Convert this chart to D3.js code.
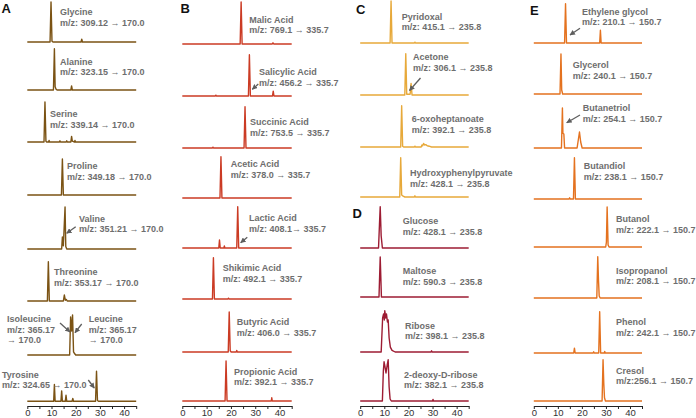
<!DOCTYPE html>
<html><head><meta charset="utf-8">
<script src="https://cdn.jsdelivr.net/npm/d3@7"></script>
<style>
html,body{margin:0;padding:0;background:#fff;}
svg{display:block;}
</style>
</head><body>
<svg id="chart" width="696" height="418"></svg>
<script>
// ---------------- DATA ----------------
const xTicks = [0, 10, 20, 30, 40];
const xMinorTicks = [0, 5, 10, 15, 20, 25, 30, 35, 40, 45];
const panelLetters = ["A", "B", "C", "D", "E"];

// Column A: amino acids  (retention time [min], relative intensity)
const labelsA = [
  ["Glycine", "m/z: 309.12 → 170.0"],
  ["Alanine", "m/z: 323.15 → 170.0"],
  ["Serine", "m/z: 339.14 → 170.0"],
  ["Proline", "m/z: 349.18 → 170.0"],
  ["Valine", "m/z: 351.21 → 170.0"],
  ["Threonine", "m/z: 353.17 → 170.0"],
  ["Isoleucine", "m/z: 365.17", "→ 170.0"],
  ["Leucine", "m/z: 365.17", "→ 170.0"],
  ["Tyrosine", "m/z: 324.65 → 170.0"]
];
const tracesA = [
  [[0,0],[9.4,0],[9.8,1.0],[10.2,0.02],[10.6,0],[22.2,0],[22.5,0.07],[22.8,0],[45,0]],
  [[0,0],[10.8,0],[11.2,1.03],[11.5,0.08],[11.9,0.02],[12.3,0],[18.0,0],[18.3,0.1],[18.6,0],[45,0]],
  [[0,0],[6.9,0],[7.3,1.0],[7.7,0.02],[8.0,0],[8.8,0],[9.0,0.04],[9.2,0],[13.3,0],[13.5,0.03],[13.7,0],[16.1,0],[16.3,0.03],[16.5,0],[18.0,0],[18.3,0.14],[18.6,0.02],[19.5,0],[19.7,0.04],[19.9,0],[45,0]],
  [[0,0],[14.1,0],[14.5,0.9],[14.9,0],[45,0]],
  [[0,0],[14.2,0],[14.5,0.3],[14.9,0.08],[15.6,1.05],[15.9,0.06],[16.3,0],[45,0]],
  [[0,0],[8.3,0],[8.7,0.98],[9.1,0],[14.9,0],[15.3,0.15],[15.7,0.02],[16.1,0.04],[16.5,0],[45,0]],
  [[0,0],[17.5,0],[17.9,0.95],[18.3,0.6],[18.7,1.0],[19.1,0.08],[19.6,0.03],[20.0,0],[45,0]],
  [[0,0],[10.9,0],[11.2,0.42],[11.5,0],[13.9,0],[14.2,0.26],[14.5,0],[15.7,0],[16.0,0.15],[16.3,0],[18.5,0],[18.8,0.07],[19.1,0],[28.2,0],[28.6,0.75],[29.0,0.02],[29.4,0],[45,0]]
];

// Column B: organic acids
const labelsB = [
  ["Malic Acid", "m/z: 769.1 → 335.7"],
  ["Salicylic Acid", "m/z: 456.2 → 335.7"],
  ["Succinic Acid", "m/z: 753.5 → 335.7"],
  ["Acetic Acid", "m/z: 378.0 → 335.7"],
  ["Lactic Acid", "m/z: 408.1→ 335.7"],
  ["Shikimic Acid", "m/z: 492.1 → 335.7"],
  ["Butyric Acid", "m/z: 406.0 → 335.7"],
  ["Propionic Acid", "m/z: 392.1 → 335.7"]
];
const tracesB = [
  [[0,0],[23.8,0],[24.2,1.05],[24.6,0],[37.0,0],[37.3,0.03],[37.6,0],[45,0]],
  [[0,0],[13.6,0],[13.8,0.02],[14.0,0],[27.2,0],[27.6,1.03],[28.0,0],[37.1,0],[37.4,0.12],[37.7,0],[45,0]],
  [[0,0],[12.4,0],[12.6,0.02],[12.8,0],[25.4,0],[25.8,1.03],[26.2,0],[45,0]],
  [[0,0],[15.5,0],[15.9,1.03],[16.3,0],[45,0]],
  [[0,0],[15.0,0],[15.3,0.2],[15.6,0],[17.1,0],[17.3,0.05],[17.5,0],[22.4,0],[22.8,1.03],[23.2,0],[45,0]],
  [[0,0],[12.4,0],[12.8,1.03],[13.2,0],[18.8,0],[19.0,0.02],[19.2,0],[45,0]],
  [[0,0],[18.9,0],[19.3,1.0],[19.7,0.03],[20.1,0],[22.2,0],[22.4,0.04],[22.6,0],[45,0]],
  [[0,0],[17.6,0],[18.0,1.0],[18.4,0],[36.6,0],[36.8,0.08],[37.0,0],[45,0]]
];

// Column C: keto compounds
const labelsC = [
  ["Pyridoxal", "m/z: 415.1 → 235.8"],
  ["Acetone", "m/z: 306.1 → 235.8"],
  ["6-oxoheptanoate", "m/z: 392.1 → 235.8"],
  ["Hydroxyphenylpyruvate", "m/z: 428.1 → 235.8"]
];
const tracesC = [
  [[0,0],[12.4,0],[12.8,1.05],[13.2,0],[22.5,0],[22.7,0.02],[22.9,0],[45,0]],
  [[0,0],[18.5,0],[18.9,1.03],[19.3,0.02],[20.7,0.02],[21.1,0.29],[21.5,0],[45,0]],
  [[0,0],[16.8,0],[17.2,1.03],[17.6,0.02],[18.0,0],[22.5,0],[22.7,0.02],[22.9,0],[25.3,0],[25.6,0.05],[25.9,0.03],[26.3,0.09],[26.7,0.05],[27.2,0.06],[27.8,0.03],[28.6,0.02],[29.6,0],[45,0]],
  [[0,0],[16.4,0],[16.8,0.98],[17.2,0.05],[17.8,0.02],[18.5,0],[22.5,0],[22.7,0.03],[22.9,0],[45,0]]
];

// Column D: sugars
const labelsD = [
  ["Glucose", "m/z: 428.1 → 235.8"],
  ["Maltose", "m/z: 590.3 → 235.8"],
  ["Ribose", "m/z: 398.1 → 235.8"],
  ["2-deoxy-D-ribose", "m/z: 382.1 → 235.8"]
];
const tracesD = [
  [[0,0],[7.6,0],[8.0,0.6],[8.3,1.03],[8.7,0.3],[9.2,0],[45,0]],
  [[0,0],[7.8,0],[8.3,1.0],[8.8,0],[45,0]],
  [[0,0],[8.7,0],[9.3,0.85],[9.7,0.95],[10.0,0.8],[10.2,1.03],[10.6,0.85],[10.9,0.95],[11.3,0.75],[11.6,0.8],[12.0,0.35],[12.5,0.12],[13.2,0.04],[14.5,0],[29.4,0],[29.6,0.03],[29.8,0],[45,0]],
  [[0,0],[9.2,0],[9.6,0.75],[9.9,0.98],[10.3,0.85],[10.7,0.7],[11.2,0.9],[11.6,1.03],[12.0,0.35],[12.4,0.05],[12.9,0],[30.0,0],[30.2,0.04],[30.4,0],[45,0]]
];

// Column E: alcohols
const labelsE = [
  ["Ethylene glycol", "m/z: 210.1 → 150.7"],
  ["Glycerol", "m/z: 240.1 → 150.7"],
  ["Butanetriol", "m/z: 254.1 → 150.7"],
  ["Butandiol", "m/z: 238.1 → 150.7"],
  ["Butanol", "m/z: 222.1 → 150.7"],
  ["Isopropanol", "m/z: 208.1 → 150.7"],
  ["Phenol", "m/z: 242.1 → 150.7"],
  ["Cresol", "m/z:256.1 → 150.7"]
];
const tracesE = [
  [[0,0],[12.8,0],[13.2,0.98],[13.6,0],[27.4,0],[27.7,0.32],[28.0,0],[45,0]],
  [[0,0],[10.9,0],[11.3,1.0],[11.6,0.1],[12.0,0],[45,0]],
  [[0,0],[11.5,0],[11.9,1.0],[12.1,0.37],[12.5,0.35],[12.8,0],[18.0,0],[18.5,0.2],[19.0,0.4],[19.5,0.15],[20.1,0],[45,0]],
  [[0,0],[14.7,0],[14.9,0.03],[15.1,0],[16.5,0],[16.9,1.03],[17.3,0],[45,0]],
  [[0,0],[29.9,0],[30.2,0.12],[30.5,1.0],[30.9,0.05],[31.3,0],[45,0]],
  [[0,0],[26.2,0],[26.6,1.03],[26.9,0.45],[27.2,0.05],[27.6,0],[45,0]],
  [[0,0],[16.6,0],[16.9,0.12],[17.2,0],[24.7,0],[24.9,0.03],[25.1,0],[27.0,0],[27.4,1.03],[27.8,0],[29.3,0],[29.5,0.04],[29.7,0],[45,0]],
  [[0,0],[28.4,0],[28.8,1.03],[29.1,0.45],[29.4,0.08],[29.8,0],[45,0]]
];

// ---------------- LAYOUT (pixels) ----------------
const labelPosA = [[60,15],[60,64.5],[50,117],[67,169],[79,221.5],[54,275],[7,322],[88.7,322],[2,377.5]];
const labelPosB = [[249.3,22.5],[259,75],[250,125],[230.7,167],[249,221],[222.7,271],[236.7,325],[234,374.5]];
const labelPosC = [[401.7,19.5],[413,60],[411.7,122],[410,176]];
const labelPosD = [[402.7,224],[402.7,274],[405,328.5],[404,377.5]];
const labelPosE = [[582,14.5],[572.7,68],[582.7,111],[583.7,169],[616,222],[616,273.5],[616,325],[616,373.5]];

const arrowsA = [[75.7,226.7,66.7,233.3],[60,323,70,332],[81.7,324,75,332.7],[88.3,380,94.3,388]];
const arrowsB = [[258.3,84,252.3,89.3],[247.3,237.3,240.7,242.7]];
const arrowsC = [[420.5,78,409.5,90.5]];
const arrowsD = [];
const arrowsE = [[580,28.3,570,35],[580,115,566.7,122.7]];

const groups = [
  {traces: tracesA, labels: labelsA, pos: labelPosA, arrows: arrowsA, color: "#7b5314", x0: 27.3, x1: 136.2, base: [42,90,142,195,249,301,355,401.3], axis: true,  letter: 0, letterPos: [1.5,13.3]},
  {traces: tracesB, labels: labelsB, pos: labelPosB, arrows: arrowsB, color: "#cb3b24", x0: 182.3, x1: 291.7, base: [44,96,148,198,248,299,352,401], axis: true,  letter: 1, letterPos: [180.5,13.3]},
  {traces: tracesC, labels: labelsC, pos: labelPosC, arrows: arrowsC, color: "#e7a93a", x0: 360.2, x1: 468.7, base: [43,95,147,197], axis: false, letter: 2, letterPos: [356,14]},
  {traces: tracesD, labels: labelsD, pos: labelPosD, arrows: arrowsD, color: "#9d1c33", x0: 360.2, x1: 468.7, base: [248,297,352,401], axis: true,  letter: 3, letterPos: [352.5,218.3]},
  {traces: tracesE, labels: labelsE, pos: labelPosE, arrows: arrowsE, color: "#e4721f", x0: 533.8, x1: 642, base: [43,94,148,199,247,298,353,401], axis: true,  letter: 4, letterPos: [530,15]}
];

const PEAK_PX = 40;
const AXIS_Y = 406;
const textColor = "#6e6e6e";
const arrowColor = "#5e5e5e";

// ---------------- DRAW ----------------
const svg = d3.select("#chart");

svg.append("defs").append("marker")
  .attr("id", "ah").attr("viewBox", "0 0 10 10")
  .attr("refX", 9).attr("refY", 5)
  .attr("markerWidth", 4.2).attr("markerHeight", 4.2)
  .attr("markerUnits", "strokeWidth")
  .attr("orient", "auto")
  .append("path").attr("d", "M0,0 L10,5 L0,10 Z").attr("fill", arrowColor);

groups.forEach(g => {
  const x = d3.scaleLinear().domain([0, 45]).range([g.x0, g.x1]);
  const gg = svg.append("g");

  g.traces.forEach((tr, i) => {
    const y = d3.scaleLinear().domain([0, 1]).range([g.base[i], g.base[i] - PEAK_PX]);
    const line = d3.line().x(d => x(d[0])).y(d => y(d[1]));
    gg.append("path")
      .datum(tr)
      .attr("d", line)
      .attr("fill", "none")
      .attr("stroke", g.color)
      .attr("stroke-width", 1.4)
      .attr("stroke-linejoin", "round");
  });

  g.labels.forEach((lines, i) => {
    const t = gg.append("text")
      .attr("x", g.pos[i][0]).attr("y", g.pos[i][1])
      .attr("font-family", "Liberation Sans, Arial, sans-serif")
      .attr("font-weight", "bold")
      .attr("font-size", 9)
      .attr("fill", textColor);
    lines.forEach((ln, k) => {
      t.append("tspan").attr("x", g.pos[i][0]).attr("dy", k === 0 ? 0 : 10.5).text(ln);
    });
  });

  g.arrows.forEach(a => {
    gg.append("line")
      .attr("x1", a[0]).attr("y1", a[1]).attr("x2", a[2]).attr("y2", a[3])
      .attr("stroke", arrowColor).attr("stroke-width", 1.3)
      .attr("marker-end", "url(#ah)");
  });

  svg.append("text")
    .attr("x", g.letterPos[0]).attr("y", g.letterPos[1])
    .attr("font-family", "Liberation Sans, Arial, sans-serif")
    .attr("font-weight", "bold").attr("font-size", 13)
    .attr("fill", "#111")
    .text(panelLetters[g.letter]);

  if (g.axis) {
    const ax = d3.axisBottom(x)
      .tickValues(xMinorTicks)
      .tickFormat(d => xTicks.includes(d) ? d : "")
      .tickSize(3).tickSizeOuter(0).tickPadding(0.5);
    const a = svg.append("g").attr("transform", `translate(0,${AXIS_Y})`).call(ax);
    a.select(".domain").attr("stroke", "#222").attr("stroke-width", 1);
    a.selectAll(".tick line").attr("stroke", "#222");
    a.selectAll("text")
      .attr("font-family", "Liberation Sans, Arial, sans-serif")
      .attr("font-size", 9.5).attr("fill", "#333");
  }
});
</script>
</body></html>
